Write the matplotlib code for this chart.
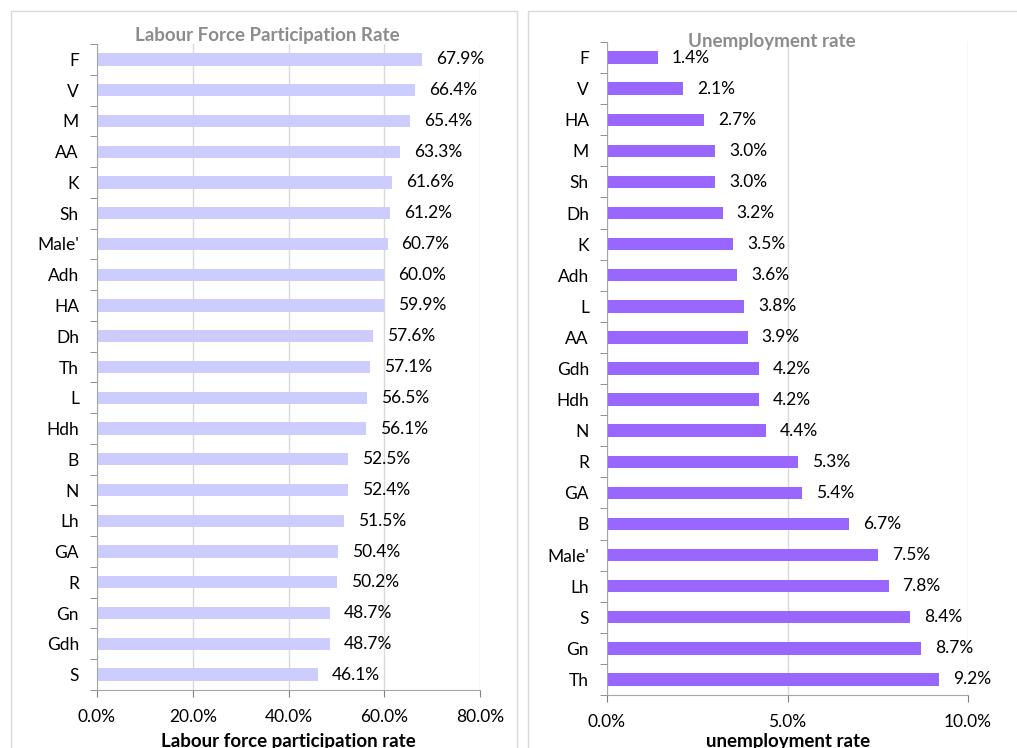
import numpy as np
import matplotlib
matplotlib.use("Agg")
import matplotlib.pyplot as plt
from matplotlib.patches import Rectangle
from matplotlib.ticker import FixedLocator, PercentFormatter

plt.rcParams["font.family"] = ["Lato", "DejaVu Sans"]

lfpr_cats = ["F", "V", "M", "AA", "K", "Sh", "Male'", "Adh", "HA", "Dh", "Th",
             "L", "Hdh", "B", "N", "Lh", "GA", "R", "Gn", "Gdh", "S"]
lfpr_vals = [67.9, 66.4, 65.4, 63.3, 61.6, 61.2, 60.7, 60.0, 59.9, 57.6, 57.1,
             56.5, 56.1, 52.5, 52.4, 51.5, 50.4, 50.2, 48.7, 48.7, 46.1]

unemp_cats = ["F", "V", "HA", "M", "Sh", "Dh", "K", "Adh", "L", "AA", "Gdh",
              "Hdh", "N", "R", "GA", "B", "Male'", "Lh", "S", "Gn", "Th"]
unemp_vals = [1.4, 2.1, 2.7, 3.0, 3.0, 3.2, 3.5, 3.6, 3.8, 3.9, 4.2,
              4.2, 4.4, 5.3, 5.4, 6.7, 7.5, 7.8, 8.4, 8.7, 9.2]

W, H = 1017, 748
fig = plt.figure(figsize=(W / 100, H / 100), dpi=100)


def px_axes(x0, y0, x1, y1):
    return fig.add_axes([x0 / W, 1 - y1 / H, (x1 - x0) / W, (y1 - y0) / H])


# panel frames
for x0, x1 in [(11, 517), (528, 1030)]:
    fig.patches.append(Rectangle((x0 / W, -0.1), (x1 - x0) / W, 1.1 - 11 / H,
                                 transform=fig.transFigure, fill=False,
                                 edgecolor="#D9D9D9", lw=1.0))


def draw(ax, cats, vals, color, xmax, step, gap):
    y = np.arange(len(cats))
    ax.barh(y, vals, height=0.4, color=color, zorder=2)
    ax.set_ylim(len(cats) - 0.5, -0.5)
    ax.set_xlim(0, xmax)
    ax.set_yticks(y)
    ax.set_yticklabels(cats, fontsize=12.5)
    ax.yaxis.set_minor_locator(FixedLocator(np.arange(-0.5, len(cats), 1)))
    ax.tick_params(axis="y", which="major", length=0, pad=13)
    ax.tick_params(axis="y", which="minor", length=5, color="#808080", direction="out")
    ax.set_xticks(np.arange(0, xmax + step / 2, step))
    ax.xaxis.set_major_formatter(PercentFormatter(decimals=1))
    ax.tick_params(axis="x", length=5, color="#808080", labelsize=12.5, pad=9)
    ax.grid(True, axis="x", color="#D9D9D9", lw=1.0, zorder=0)
    ax.set_axisbelow(True)
    for s in ["top", "right"]:
        ax.spines[s].set_visible(False)
    for s in ["left", "bottom"]:
        ax.spines[s].set_color("#A6A6A6")
    for yi, v in zip(y, vals):
        ax.annotate(f"{v:.1f}%", (v, yi), xytext=(gap, 0), textcoords="offset pixels",
                    va="center", ha="left", fontsize=12.5)


ax1 = px_axes(97, 44, 480, 690)
draw(ax1, lfpr_cats, lfpr_vals, "#CCCCFF", 80, 20, 14)
ax2 = px_axes(607, 42, 968, 695)
draw(ax2, unemp_cats, unemp_vals, "#9966FF", 10, 5, 14)

fig.text(267 / W, 1 - 35 / H, "Labour Force Participation Rate", ha="center", va="center",
         fontsize=13.5, fontweight="bold", color="#8C8C8C")
fig.text(772 / W, 1 - 42 / H, "Unemployment rate", ha="center", va="center",
         fontsize=13.5, fontweight="bold", color="#8C8C8C")
fig.text(288 / W, 1 - 742 / H, "Labour force participation rate", ha="center", va="center",
         fontsize=13.5, fontweight="bold")
fig.text(788 / W, 1 - 742 / H, "unemployment rate", ha="center", va="center",
         fontsize=13.5, fontweight="bold")

fig.savefig("out.png", dpi=100)
